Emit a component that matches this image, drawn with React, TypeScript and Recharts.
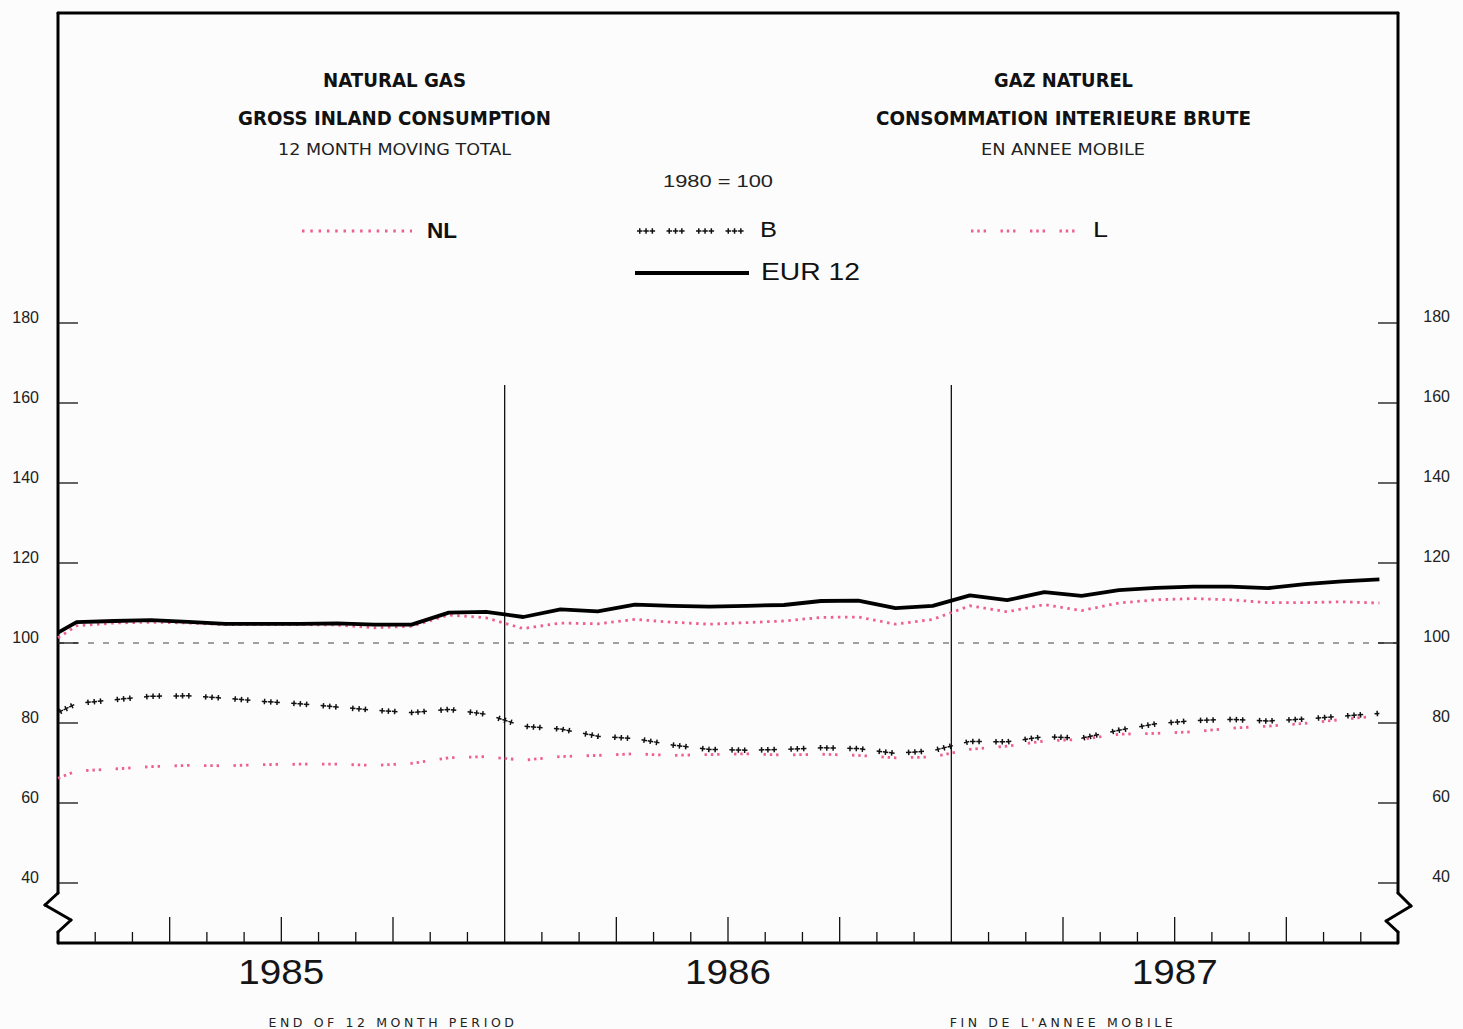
import React from 'react';
import { LineChart, Line, XAxis, YAxis, ReferenceLine } from 'recharts';

// ---- data ----
// x position in months from the start of 1985; first value is the left-edge start point
const MONTH_POS = [0, 0.5, 1.5, 2.5, 3.5, 4.5, 5.5, 6.5, 7.5, 8.5, 9.5, 10.5, 11.5,
  12.5, 13.5, 14.5, 15.5, 16.5, 17.5, 18.5, 19.5, 20.5, 21.5, 22.5, 23.5,
  24.5, 25.5, 26.5, 27.5, 28.5, 29.5, 30.5, 31.5, 32.5, 33.5, 34.5, 35.5];
const EUR12 = [102.6, 105.2, 105.5, 105.7, 105.3, 104.8, 104.8, 104.8, 104.9, 104.6, 104.6, 107.6, 107.8,
  106.5, 108.4, 107.9, 109.6, 109.3, 109.1, 109.3, 109.5, 110.5, 110.6, 108.7, 109.3,
  111.9, 110.7, 112.7, 111.8, 113.2, 113.8, 114.1, 114.1, 113.7, 114.7, 115.4, 115.9];
const NL = [101.3, 104.3, 105.0, 105.2, 105.0, 104.6, 104.6, 104.6, 104.5, 103.8, 104.2, 107.0, 106.3,
  103.6, 105.0, 104.8, 105.9, 105.2, 104.7, 105.1, 105.5, 106.4, 106.5, 104.7, 105.9,
  109.3, 107.8, 109.6, 108.1, 110.0, 110.8, 111.1, 110.8, 110.1, 110.1, 110.3, 110.0];
const B = [82.6, 84.9, 85.8, 86.7, 86.8, 86.2, 85.4, 84.8, 84.0, 83.2, 82.6, 83.4, 82.2,
  79.2, 78.5, 76.7, 76.1, 74.5, 73.4, 73.2, 73.4, 73.8, 73.6, 72.4, 73.1,
  75.4, 75.3, 76.6, 76.2, 78.2, 79.8, 80.6, 80.9, 80.5, 81.0, 81.7, 82.4];
const L = [66.2, 68.0, 68.5, 69.1, 69.4, 69.3, 69.6, 69.7, 69.7, 69.4, 69.9, 71.3, 71.6,
  70.7, 71.6, 71.9, 72.3, 71.9, 72.1, 72.3, 72.0, 72.2, 71.9, 71.3, 71.5,
  73.4, 74.2, 75.5, 75.9, 77.2, 77.4, 77.8, 78.7, 79.2, 79.9, 80.9, 81.8];

const MONTH_TICKS = [0, 1, 2, 3, 4, 5, 6, 7, 8, 9, 10, 11, 12, 13, 14, 15, 16, 17, 18,
  19, 20, 21, 22, 23, 24, 25, 26, 27, 28, 29, 30, 31, 32, 33, 34, 35, 36];
const YEAR_LABELS: Record<number, string> = { 6: '1985', 18: '1986', 30: '1987' };
const FOOT_LABELS: Record<number, string> = { 9: 'END OF 12 MONTH PERIOD', 27: "FIN DE L'ANNEE MOBILE" };
const Y_TICKS = [40, 60, 80, 100, 120, 140, 160, 180];
const Y_DOMAIN: [number, number] = [25, 257.5];

const data = MONTH_POS.map((m, i) => ({ m, EUR12: EUR12[i], NL: NL[i], B: B[i], L: L[i] }));

// ---- layout ----
const W = 1463;
const H = 1029;
const PLOT_LEFT = 58;
const PLOT_RIGHT = 1398;
const PLOT_BOTTOM = 943;
const PINK = '#ef5f8c';

const CROSS_H = '5.5 0.8 5.5 0.8 5.5 11.4';
const CROSS_V = '1.5 4.8 1.5 4.8 1.5 15.4';
const L_DASH = '2.4 3.9 2.4 3.9 2.4 14.5';

const XTick = (props: any) => {
  const { x, payload } = props;
  const m = payload.value as number;
  const len = m % 12 === 0 ? 0 : m % 3 === 0 ? 26 : 11;
  return (
    <g>
      {len > 0 && <line x1={x} x2={x} y1={PLOT_BOTTOM} y2={PLOT_BOTTOM - len} stroke="#111" strokeWidth={1.3} />}
      {YEAR_LABELS[m] && (
        <text x={x - 43} y={984} textLength={86} lengthAdjust="spacingAndGlyphs"
          fontFamily="Liberation Sans" fontSize={35} fill="#151515">{YEAR_LABELS[m]}</text>
      )}
      {FOOT_LABELS[m] && (
        <text x={x} y={1027} textAnchor="middle" letterSpacing={3.6}
          fontFamily="DejaVu Sans" fontSize={12.5} fill="#222">{FOOT_LABELS[m]}</text>
      )}
    </g>
  );
};

const LeftTick = (props: any) => {
  const { y, payload } = props;
  return (
    <g>
      <line x1={PLOT_LEFT} x2={PLOT_LEFT + 20} y1={y} y2={y} stroke="#111" strokeWidth={1.3} />
      <text x={39} y={y - 4} textAnchor="end" dominantBaseline="middle"
        fontFamily="Liberation Sans" fontSize={16} fill="#222">{payload.value}</text>
    </g>
  );
};

const RightTick = (props: any) => {
  const { y, payload } = props;
  return (
    <g>
      <line x1={PLOT_RIGHT - 20} x2={PLOT_RIGHT} y1={y} y2={y} stroke="#111" strokeWidth={1.3} />
      <text x={1450} y={y - 5} textAnchor="end" dominantBaseline="middle"
        fontFamily="Liberation Sans" fontSize={16} fill="#222">{payload.value}</text>
    </g>
  );
};

const border = { stroke: '#000', strokeWidth: 3, strokeLinecap: 'round' as const, ifOverflow: 'visible' as const, yAxisId: 'left' };

const Overlay = () => (
  <svg width={W} height={H} style={{ position: 'absolute', left: 0, top: 0, pointerEvents: 'none' }}>
    <g fontFamily="DejaVu Sans Condensed" fontWeight="bold" fontSize={20} fill="#111">
      <text x={323} y={87} textLength={143} lengthAdjust="spacingAndGlyphs">NATURAL GAS</text>
      <text x={238} y={125} textLength={313} lengthAdjust="spacingAndGlyphs">GROSS INLAND CONSUMPTION</text>
      <text x={994} y={87} textLength={139} lengthAdjust="spacingAndGlyphs">GAZ NATUREL</text>
      <text x={876} y={125} textLength={375} lengthAdjust="spacingAndGlyphs">CONSOMMATION INTERIEURE BRUTE</text>
    </g>
    <g fontFamily="DejaVu Sans Condensed" fontSize={16} fill="#222">
      <text x={278} y={155} textLength={233} lengthAdjust="spacingAndGlyphs">12 MONTH MOVING TOTAL</text>
      <text x={981} y={155} textLength={164} lengthAdjust="spacingAndGlyphs">EN ANNEE MOBILE</text>
    </g>
    <text x={663} y={187} textLength={110} lengthAdjust="spacingAndGlyphs"
      fontFamily="Liberation Sans" fontSize={16} fill="#222">1980 = 100</text>

    {/* legend: NL */}
    <line x1={302} x2={412} y1={231} y2={231} stroke={PINK} strokeWidth={2.8} strokeDasharray="2.5 5.8" />
    <text x={427} y={238} textLength={30} lengthAdjust="spacingAndGlyphs"
      fontFamily="Liberation Sans" fontWeight="bold" fontSize={22} fill="#111">NL</text>
    {/* legend: B */}
    <line x1={637} x2={750} y1={231} y2={231} stroke="#111" strokeWidth={1.5} strokeDasharray={CROSS_H} />
    <line x1={637} x2={750} y1={231} y2={231} stroke="#111" strokeWidth={5.5} strokeDasharray={CROSS_V} strokeDashoffset={-2} />
    <text x={760} y={237} textLength={17} lengthAdjust="spacingAndGlyphs"
      fontFamily="Liberation Sans" fontSize={22} fill="#111">B</text>
    {/* legend: L */}
    <line x1={971} x2={1082} y1={231} y2={231} stroke={PINK} strokeWidth={2.8} strokeDasharray={L_DASH} />
    <text x={1093} y={237} textLength={15} lengthAdjust="spacingAndGlyphs"
      fontFamily="Liberation Sans" fontSize={22} fill="#111">L</text>
    {/* legend: EUR 12 */}
    <line x1={635} x2={749} y1={273} y2={273} stroke="#000" strokeWidth={4} />
    <text x={761} y={280} textLength={99} lengthAdjust="spacingAndGlyphs"
      fontFamily="Liberation Sans" fontSize={23} fill="#111">EUR  12</text>
  </svg>
);

export default function App() {
  return (
    <div style={{ position: 'absolute', left: 0, top: 0, width: W, height: H, background: '#fcfcfc' }}>
      <LineChart width={W} height={H} data={data} margin={{ top: 13, right: 0, left: 0, bottom: 0 }}>
        <XAxis type="number" dataKey="m" domain={[0, 36]} ticks={MONTH_TICKS} interval={0}
          height={86} axisLine={{ stroke: '#000', strokeWidth: 3 }} tickLine={false} tick={<XTick />} />
        <YAxis yAxisId="left" type="number" domain={Y_DOMAIN} ticks={Y_TICKS} interval={0} width={58}
          axisLine={false} tickLine={false} tick={<LeftTick />} allowDataOverflow />
        <YAxis yAxisId="right" orientation="right" type="number" domain={Y_DOMAIN} ticks={Y_TICKS} interval={0} width={65}
          axisLine={false} tickLine={false} tick={<RightTick />} allowDataOverflow />

        {/* frame */}
        <ReferenceLine {...border} y={257.5} />
        <ReferenceLine {...border} segment={[{ x: 0, y: 257.5 }, { x: 0, y: 37.5 }]} />
        <ReferenceLine {...border} segment={[{ x: 0, y: 37.5 }, { x: -0.35, y: 34.5 }]} />
        <ReferenceLine {...border} segment={[{ x: -0.35, y: 34.5 }, { x: 0.35, y: 30.75 }]} />
        <ReferenceLine {...border} segment={[{ x: 0.35, y: 30.75 }, { x: 0, y: 27.75 }]} />
        <ReferenceLine {...border} segment={[{ x: 0, y: 27.75 }, { x: 0, y: 25 }]} />
        <ReferenceLine {...border} segment={[{ x: 36, y: 257.5 }, { x: 36, y: 37.5 }]} />
        <ReferenceLine {...border} segment={[{ x: 36, y: 37.5 }, { x: 36.35, y: 34.25 }]} />
        <ReferenceLine {...border} segment={[{ x: 36.35, y: 34.25 }, { x: 35.68, y: 30.5 }]} />
        <ReferenceLine {...border} segment={[{ x: 35.68, y: 30.5 }, { x: 36, y: 27.75 }]} />
        <ReferenceLine {...border} segment={[{ x: 36, y: 27.75 }, { x: 36, y: 25 }]} />

        {/* year separators and base line */}
        <ReferenceLine yAxisId="left" segment={[{ x: 12, y: 25 }, { x: 12, y: 164.5 }]} stroke="#111" strokeWidth={1.3} />
        <ReferenceLine yAxisId="left" segment={[{ x: 24, y: 25 }, { x: 24, y: 164.5 }]} stroke="#111" strokeWidth={1.3} />
        <ReferenceLine yAxisId="left" y={100} stroke="#444" strokeWidth={1.2} strokeDasharray="6 9" />

        <Line yAxisId="left" type="linear" dataKey="L" stroke={PINK} strokeWidth={2.8}
          strokeDasharray={L_DASH} dot={false} activeDot={false} isAnimationActive={false} />
        <Line yAxisId="left" type="linear" dataKey="NL" stroke={PINK} strokeWidth={2.8}
          strokeDasharray="2.5 4.6" dot={false} activeDot={false} isAnimationActive={false} />
        <Line yAxisId="left" type="linear" dataKey="B" stroke="#111" strokeWidth={1.5}
          strokeDasharray={CROSS_H} dot={false} activeDot={false} isAnimationActive={false} />
        <Line yAxisId="left" type="linear" dataKey="B" stroke="#111" strokeWidth={5.5}
          strokeDasharray={CROSS_V} strokeDashoffset={-2}
          dot={false} activeDot={false} isAnimationActive={false} legendType="none" />
        <Line yAxisId="left" type="linear" dataKey="EUR12" stroke="#000" strokeWidth={3.8}
          strokeLinejoin="round" dot={false} activeDot={false} isAnimationActive={false} />
      </LineChart>
      <Overlay />
    </div>
  );
}
